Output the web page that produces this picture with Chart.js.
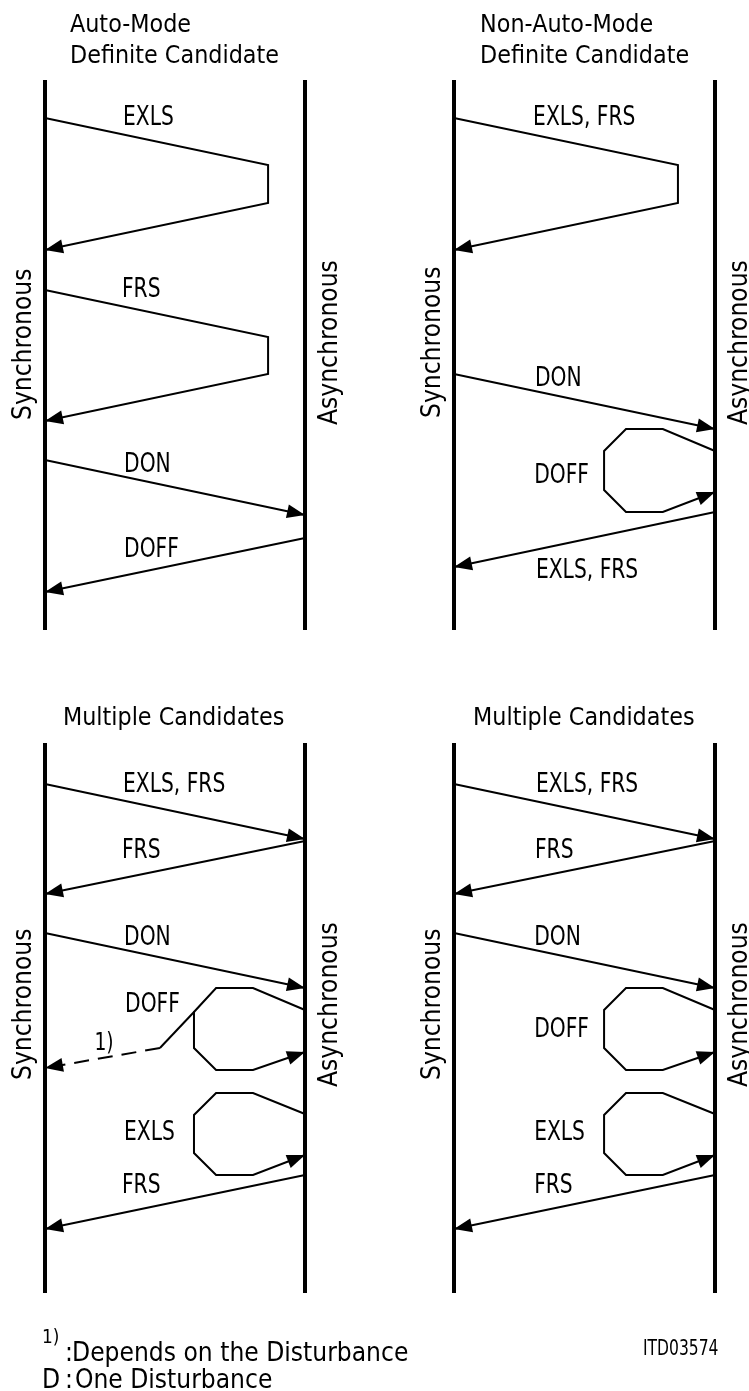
<!DOCTYPE html>
<html>
<head>
<meta charset="utf-8">
<script src="https://cdn.jsdelivr.net/npm/chart.js@4.4.1/dist/chart.umd.min.js"></script>
<style>
  html, body { margin: 0; padding: 0; background: #fff; }
  #wrap { position: relative; width: 749px; height: 1391px; background: #fff; overflow: hidden; }
  #wrap canvas { position: absolute; }
</style>
</head>
<body>
<div id="wrap">
  <canvas id="c1" width="430" height="663" style="left:0;top:0"></canvas>
  <canvas id="c2" width="340" height="663" style="left:409px;top:0"></canvas>
  <canvas id="c3" width="430" height="728" style="left:0;top:663px"></canvas>
  <canvas id="c4" width="340" height="728" style="left:409px;top:663px"></canvas>
</div>
<script>
// ---------- DATA (x: 0 = Synchronous lifeline, 1 = Asynchronous lifeline; y: time units) ----------
const lifelineSpan = [80, 630];
const sideNames = ['Synchronous', 'Asynchronous'];

// Panel 1 : Auto-Mode, Definite Candidate
const p1Titles = ['Auto-Mode', 'Definite Candidate'];
const p1TitleAt = [[0.096, 32], [0.096, 63]];
const p1Exls = [[0, 118], [0.858, 165], [0.858, 203], [0, 250]];
const p1Frs = [[0, 290], [0.858, 337], [0.858, 374], [0, 421]];
const p1Don = [[0, 460], [1, 515]];
const p1Doff = [[1, 538], [0, 592]];
const p1Names = ['EXLS', 'FRS', 'DON', 'DOFF'];
const p1NameAt = [[0.30, 125], [0.296, 297], [0.304, 472], [0.304, 557]];
const p1SideAt = [[-0.054, 420], [1.123, 425]];

// Panel 2 : Non-Auto-Mode, Definite Candidate
const p2Titles = ['Non-Auto-Mode', 'Definite Candidate'];
const p2TitleAt = [[0.10, 32], [0.10, 63]];
const p2ExlsFrs = [[0, 118], [0.858, 165], [0.858, 203], [0, 250]];
const p2Don = [[0, 374], [1, 429]];
const p2DoffLoop = [[1, 451], [0.80, 429], [0.659, 429], [0.575, 451], [0.575, 490], [0.659, 512], [0.80, 512], [1, 492]];
const p2ExlsFrsBack = [[1, 512], [0, 567]];
const p2Names = ['EXLS, FRS', 'DON', 'DOFF', 'EXLS, FRS'];
const p2NameAt = [[0.303, 125], [0.31, 386], [0.307, 483], [0.314, 578]];
const p2SideAt = [[-0.054, 418], [1.123, 425]];

// Panel 3 : Multiple Candidates (with disturbance branch)
const p3Titles = ['Multiple Candidates'];
const p3TitleAt = [[0.069, 62]];
const p3ExlsFrs = [[0, 121], [1, 176]];
const p3Frs = [[1, 178], [0, 231]];
const p3Don = [[0, 270], [1, 325]];
const p3DoffLoop = [[1, 347], [0.80, 325], [0.658, 325], [0.573, 349], [0.573, 385], [0.658, 407], [0.80, 407], [1, 389]];
const p3DoffBranch = [[0.573, 349], [0.442, 385]];
const p3DoffDashed = [[0.442, 385], [0, 405]];
const p3ExlsLoop = [[1, 451], [0.80, 430], [0.658, 430], [0.573, 452], [0.573, 490], [0.658, 512], [0.80, 512], [1, 492]];
const p3FrsBack = [[1, 512], [0, 566]];
const p3Names = ['EXLS, FRS', 'FRS', 'DON', 'DOFF', 'EXLS', 'FRS'];
const p3NameAt = [[0.30, 129], [0.296, 195], [0.304, 282], [0.308, 349], [0.304, 477], [0.296, 530]];
const p3Note = ['1)'];
const p3NoteAt = [[0.19, 387]];
const p3SideAt = [[-0.054, 417], [1.123, 424]];

// Panel 4 : Multiple Candidates
const p4Titles = ['Multiple Candidates'];
const p4TitleAt = [[0.073, 62]];
const p4ExlsFrs = [[0, 121], [1, 176]];
const p4Frs = [[1, 178], [0, 231]];
const p4Don = [[0, 270], [1, 325]];
const p4DoffLoop = [[1, 347], [0.80, 325], [0.659, 325], [0.575, 347], [0.575, 385], [0.659, 407], [0.80, 407], [1, 389]];
const p4ExlsLoop = [[1, 451], [0.80, 430], [0.659, 430], [0.575, 452], [0.575, 490], [0.659, 512], [0.80, 512], [1, 492]];
const p4FrsBack = [[1, 512], [0, 566]];
const p4Names = ['EXLS, FRS', 'FRS', 'DON', 'DOFF', 'EXLS', 'FRS'];
const p4NameAt = [[0.314, 129], [0.31, 195], [0.307, 282], [0.307, 374], [0.307, 477], [0.307, 530]];
const p4SideAt = [[-0.054, 417], [1.123, 424]];

// Footnotes
const footSup = ['1)'];
const footSupAt = [[-0.0115, 680]];
const footText = [':', 'Depends on the Disturbance', 'D', ':', 'One Disturbance'];
const footTextAt = [[0.077, 698], [0.104, 698], [-0.0115, 725], [0.077, 725], [0.115, 725]];
const drawingCode = ['ITD03574'];
const drawingCodeAt = [[0.724, 692]];

// ---------- STYLES ----------
const FONT = '"DejaVu Sans", "Liberation Sans", sans-serif';
const STYLES = {
  title: { size: 24, sx: 0.93 },
  label: { size: 27, sx: 0.75 },
  side:  { size: 27, sx: 0.87 },
  foot:  { size: 27, sx: 0.87 },
  note:  { size: 24, sx: 0.78 },
  sup:   { size: 20, sx: 0.85 },
  code:  { size: 21, sx: 0.74 }
};

const toPts = a => a.map(([x, y]) => ({ x, y }));

function lineDs(arr, o = {}) {
  return {
    data: toPts(arr),
    showLine: true,
    borderColor: '#000',
    backgroundColor: '#000',
    borderWidth: o.width || 2,
    borderDash: o.dash || [],
    borderJoinStyle: 'miter',
    borderCapStyle: 'butt',
    pointRadius: 0,
    tension: 0,
    arrow: !!o.arrow,
    clip: false
  };
}

function textItems(names, at, style, rotate) {
  return names.map((t, i) => ({ t, x: at[i][0], y: at[i][1], style, rotate: !!rotate }));
}

const diagramPlugin = {
  id: 'diagram',
  afterDatasetsDraw(chart) {
    const ctx = chart.ctx;
    // arrowheads at the end of flagged messages
    chart.data.datasets.forEach((ds, i) => {
      if (!ds.arrow) return;
      const pts = chart.getDatasetMeta(i).data;
      const a = pts[pts.length - 2], b = pts[pts.length - 1];
      const ang = Math.atan2(b.y - a.y, b.x - a.x);
      const L = 18, W = 7;
      const cx = Math.cos(ang), sy = Math.sin(ang);
      const bx = b.x - L * cx, by = b.y - L * sy;
      ctx.save();
      ctx.fillStyle = '#000';
      ctx.beginPath();
      ctx.moveTo(b.x, b.y);
      ctx.lineTo(bx - W * sy, by + W * cx);
      ctx.lineTo(bx + W * sy, by - W * cx);
      ctx.closePath();
      ctx.fill();
      ctx.restore();
    });
    // texts, anchored through the chart scales
    const xs = chart.scales.x, ys = chart.scales.y;
    (chart.options.plugins.diagram.texts || []).forEach(it => {
      const st = STYLES[it.style];
      ctx.save();
      ctx.fillStyle = '#000';
      ctx.font = st.size + 'px ' + FONT;
      ctx.textAlign = 'left';
      ctx.textBaseline = 'alphabetic';
      ctx.translate(xs.getPixelForValue(it.x), ys.getPixelForValue(it.y));
      if (it.rotate) ctx.rotate(-Math.PI / 2);
      ctx.scale(st.sx, 1);
      ctx.fillText(it.t, 0, 0);
      ctx.restore();
    });
  }
};

function makePanel(id, spanPx, heightUnits, lines, texts) {
  const lifeL = lineDs([[0, lifelineSpan[0]], [0, lifelineSpan[1]]], { width: 4 });
  const lifeR = lineDs([[1, lifelineSpan[0]], [1, lifelineSpan[1]]], { width: 4 });
  const canvas = document.getElementById(id);
  const leftPx = 45;
  return new Chart(canvas, {
    type: 'scatter',
    data: { datasets: [lifeL, lifeR, ...lines] },
    options: {
      responsive: false,
      animation: false,
      events: [],
      layout: { padding: 0 },
      plugins: {
        legend: { display: false },
        tooltip: { enabled: false },
        title: { display: false },
        diagram: { texts }
      },
      scales: {
        x: { type: 'linear', display: false, min: -leftPx / spanPx, max: (canvas.width - leftPx) / spanPx },
        y: { type: 'linear', display: false, min: 0, max: heightUnits, reverse: true }
      }
    },
    plugins: [diagramPlugin]
  });
}

makePanel('c1', 260, 663, [
  lineDs(p1Exls, { arrow: true }),
  lineDs(p1Frs, { arrow: true }),
  lineDs(p1Don, { arrow: true }),
  lineDs(p1Doff, { arrow: true })
], [
  ...textItems(p1Titles, p1TitleAt, 'title'),
  ...textItems(p1Names, p1NameAt, 'label'),
  ...textItems(sideNames, p1SideAt, 'side', true)
]);

makePanel('c2', 261, 663, [
  lineDs(p2ExlsFrs, { arrow: true }),
  lineDs(p2Don, { arrow: true }),
  lineDs(p2DoffLoop, { arrow: true }),
  lineDs(p2ExlsFrsBack, { arrow: true })
], [
  ...textItems(p2Titles, p2TitleAt, 'title'),
  ...textItems(p2Names, p2NameAt, 'label'),
  ...textItems(sideNames, p2SideAt, 'side', true)
]);

makePanel('c3', 260, 728, [
  lineDs(p3ExlsFrs, { arrow: true }),
  lineDs(p3Frs, { arrow: true }),
  lineDs(p3Don, { arrow: true }),
  lineDs(p3DoffLoop, { arrow: true }),
  lineDs(p3DoffBranch),
  lineDs(p3DoffDashed, { arrow: true, dash: [15, 9] }),
  lineDs(p3ExlsLoop, { arrow: true }),
  lineDs(p3FrsBack, { arrow: true })
], [
  ...textItems(p3Titles, p3TitleAt, 'title'),
  ...textItems(p3Names, p3NameAt, 'label'),
  ...textItems(p3Note, p3NoteAt, 'note'),
  ...textItems(sideNames, p3SideAt, 'side', true),
  ...textItems(footSup, footSupAt, 'sup'),
  ...textItems(footText, footTextAt, 'foot')
]);

makePanel('c4', 261, 728, [
  lineDs(p4ExlsFrs, { arrow: true }),
  lineDs(p4Frs, { arrow: true }),
  lineDs(p4Don, { arrow: true }),
  lineDs(p4DoffLoop, { arrow: true }),
  lineDs(p4ExlsLoop, { arrow: true }),
  lineDs(p4FrsBack, { arrow: true })
], [
  ...textItems(p4Titles, p4TitleAt, 'title'),
  ...textItems(p4Names, p4NameAt, 'label'),
  ...textItems(sideNames, p4SideAt, 'side', true),
  ...textItems(drawingCode, drawingCodeAt, 'code')
]);
</script>
</body>
</html>
